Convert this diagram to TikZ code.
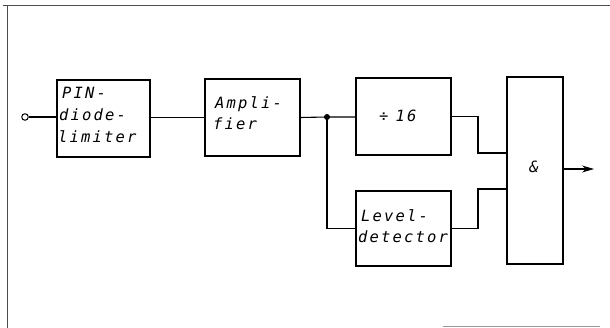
\documentclass[tikz,border=0pt]{standalone}
\usepackage{fontspec}
\newfontfamily\stencil[LetterSpace=14]{DejaVu Sans Mono}
\usetikzlibrary{arrows.meta}
\begin{document}
\begin{tikzpicture}[x=1pt,y=-1pt,
  box/.style={draw, line width=1.8pt, inner sep=0pt},
  lbl/.style={font=\stencil\itshape\fontsize{15.5}{22}\selectfont, inner sep=0pt, anchor=base west},
  wire/.style={line width=1.1pt},
  frame/.style={line width=1pt, black!70}]
\useasboundingbox (0,0) rectangle (610,328);
% frame
\draw[frame] (3,6) -- (610,6);
\draw[frame] (7,6) -- (7,328);
\draw[frame, black!40] (443,326.5) -- (600,326.5);
% boxes
\node[box, minimum width=93pt, minimum height=77pt] (pin) at (103.5,118.5) {};
\node[box, minimum width=95pt, minimum height=77pt] (amp) at (252.5,117.5) {};
\node[box, minimum width=95pt, minimum height=77pt] (div) at (403.5,116.5) {};
\node[box, minimum width=95pt, minimum height=75pt] (lvl) at (403.5,228.5) {};
\node[box, minimum width=56pt, minimum height=187pt] (and) at (535,170.5) {};
% texts
\node[lbl] (t1) at (62,99) {PIN-};
\node[lbl] (t2) at (59,121) {diode-};
\node[lbl] (t3) at (58,143) {limiter};
\node[lbl] (t4) at (215,109) {Ampli-};
\node[lbl] (t5) at (213,130) {fier};
\node[lbl] (t6) at (379,122) {÷\hspace{7pt}16};
\node[lbl] (t7) at (361,222) {Level-};
\node[lbl] (t8) at (358,243) {detector};
\node[lbl, anchor=center] (t9) at (534,167) {\&};
% terminals
\node[draw, circle, line width=1pt, minimum size=6.5pt, inner sep=0pt] (in) at (25,117) {};
\coordinate (j) at (327,117);
\coordinate (a1) at (478,153);
\coordinate (a2) at (478,189);
\coordinate (out) at (594,169);
% wires
\draw[wire] (in.east) -- (in.east -| pin.west);
\draw[wire] (pin.east |- amp.west) -- (amp.west);
\draw[wire] (amp.east) -- (j) -- (j -| div.west);
\draw[wire] (j) |- (lvl.west);
\fill (j) circle (3pt);
\draw[wire] (div.east) -| (a1) -- (a1 -| and.west);
\draw[wire] (lvl.east) -| (a2) -- (a2 -| and.west);
\draw[wire, -{Stealth[length=12pt,width=7pt]}] (out -| and.east) -- (out);
\end{tikzpicture}
\end{document}
